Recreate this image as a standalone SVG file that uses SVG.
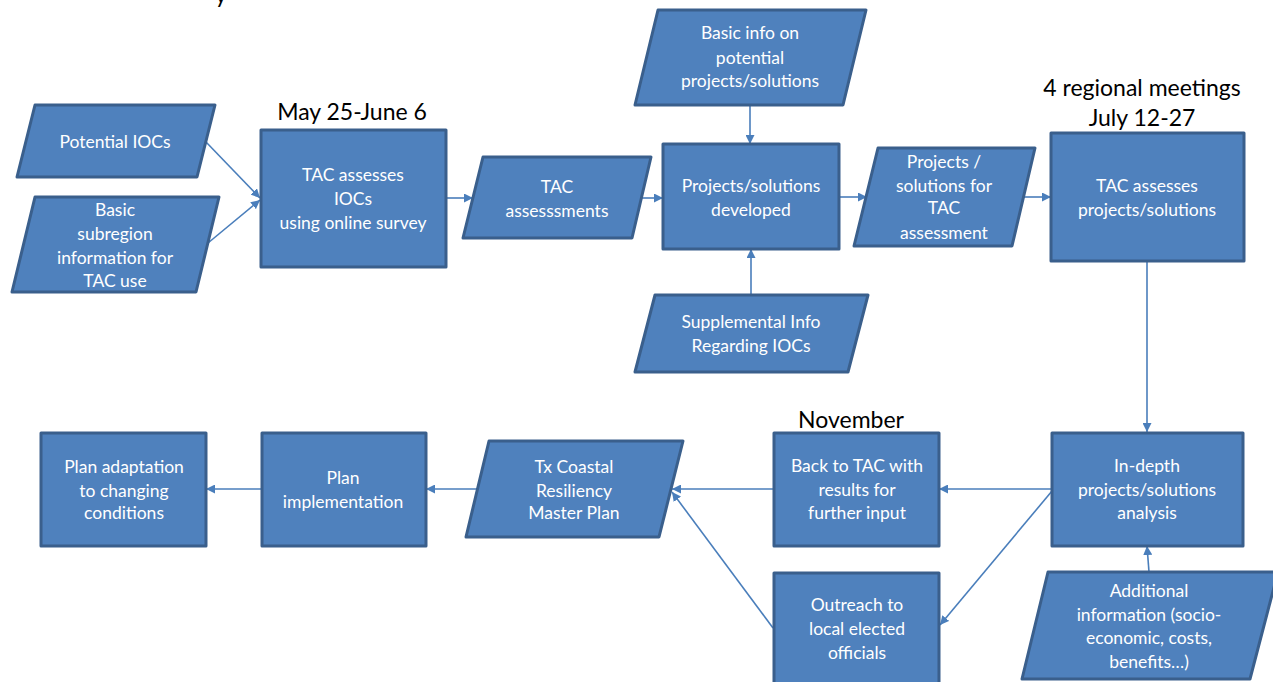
<svg xmlns="http://www.w3.org/2000/svg" width="1273" height="682" viewBox="0 0 1273 682">
<style>
.n{fill:#4F81BD;stroke:#3A5F8C;stroke-width:3;stroke-linejoin:round}
.t{fill:#FFFFFF;font-family:Lato,"Liberation Sans",sans-serif;font-size:17.5px;text-anchor:middle}
.lb{fill:#000000;font-family:Lato,"Liberation Sans",sans-serif;font-size:23px;text-anchor:middle}
.c{fill:none;stroke:#4A7EBB;stroke-width:1.6}
</style>
<defs>
<marker id="ah" viewBox="0 0 10 10" refX="10" refY="5" markerWidth="9" markerHeight="9" markerUnits="userSpaceOnUse" orient="auto">
<path d="M0,0 L10,5 L0,10 z" fill="#4A7EBB"/>
</marker>
</defs>
<rect width="1273" height="682" fill="#FFFFFF"/>
<text class="lb" x="221" y="3">y</text>
<text class="lb" x="352" y="120">May 25-June 6</text>
<text class="lb" x="1142" y="96">4 regional meetings</text>
<text class="lb" x="1142" y="126">July 12-27</text>
<text class="lb" x="851" y="428">November</text>

<g id="connectors">
<line class="c" x1="206" y1="142" x2="260" y2="198" marker-end="url(#ah)"/>
<line class="c" x1="208" y1="243" x2="260" y2="200" marker-end="url(#ah)"/>
<line class="c" x1="446" y1="198" x2="473" y2="198" marker-end="url(#ah)"/>
<line class="c" x1="642" y1="198" x2="663" y2="198" marker-end="url(#ah)"/>
<line class="c" x1="750" y1="105" x2="750" y2="144" marker-end="url(#ah)"/>
<line class="c" x1="751" y1="295" x2="751" y2="249" marker-end="url(#ah)"/>
<line class="c" x1="839" y1="197" x2="867" y2="197" marker-end="url(#ah)"/>
<line class="c" x1="1023" y1="197" x2="1051" y2="197" marker-end="url(#ah)"/>
<line class="c" x1="1147" y1="261" x2="1147" y2="432" marker-end="url(#ah)"/>
<line class="c" x1="1052" y1="489" x2="939" y2="489" marker-end="url(#ah)"/>
<line class="c" x1="1052" y1="491" x2="940" y2="625" marker-end="url(#ah)"/>
<line class="c" x1="1149" y1="572" x2="1147" y2="546" marker-end="url(#ah)"/>
<line class="c" x1="774" y1="489" x2="672" y2="489" marker-end="url(#ah)"/>
<line class="c" x1="773" y1="628" x2="672" y2="492" marker-end="url(#ah)"/>
<line class="c" x1="478" y1="489" x2="426" y2="489" marker-end="url(#ah)"/>
<line class="c" x1="262" y1="489" x2="206" y2="489" marker-end="url(#ah)"/>
</g>

<g id="potential-iocs">
<polygon class="n" points="35,105 215,105 197,177 17,177"/>
<text class="t" x="115" y="148">Potential IOCs</text>
</g>
<g id="basic-subregion">
<polygon class="n" points="35,197 219,197 196,292 12,292"/>
<text class="t" x="115" y="216">Basic</text>
<text class="t" x="115" y="240">subregion</text>
<text class="t" x="115" y="264">information for</text>
<text class="t" x="115" y="287">TAC use</text>
</g>
<g id="tac-assesses-iocs">
<rect class="n" x="261" y="130" width="185" height="137"/>
<text class="t" x="353" y="181">TAC assesses</text>
<text class="t" x="353" y="205">IOCs</text>
<text class="t" x="353" y="229">using online survey</text>
</g>
<g id="tac-assessments">
<polygon class="n" points="483,157 651,157 632,238 463,238"/>
<text class="t" x="557" y="193">TAC</text>
<text class="t" x="557" y="217">assesssments</text>
</g>
<g id="basic-info">
<polygon class="n" points="658,10 866,10 843,105 635,105"/>
<text class="t" x="750" y="39">Basic info on</text>
<text class="t" x="750" y="64">potential</text>
<text class="t" x="750" y="87">projects/solutions</text>
</g>
<g id="projects-developed">
<rect class="n" x="663" y="144" width="176" height="105"/>
<text class="t" x="751" y="192">Projects/solutions</text>
<text class="t" x="751" y="216">developed</text>
</g>
<g id="supplemental-info">
<polygon class="n" points="655,295 868,295 848,372 635,372"/>
<text class="t" x="751" y="328">Supplemental Info</text>
<text class="t" x="751" y="352">Regarding IOCs</text>
</g>
<g id="projects-for-tac">
<polygon class="n" points="878,148 1035,148 1012,246 854,246"/>
<text class="t" x="944" y="168">Projects /</text>
<text class="t" x="944" y="192">solutions for</text>
<text class="t" x="944" y="214">TAC</text>
<text class="t" x="944" y="239">assessment</text>
</g>
<g id="tac-assesses-projects">
<rect class="n" x="1051" y="133" width="193" height="128"/>
<text class="t" x="1147" y="192">TAC assesses</text>
<text class="t" x="1147" y="216">projects/solutions</text>
</g>
<g id="in-depth">
<rect class="n" x="1052" y="433" width="191" height="113"/>
<text class="t" x="1147" y="472">In-depth</text>
<text class="t" x="1147" y="496">projects/solutions</text>
<text class="t" x="1147" y="519">analysis</text>
</g>
<g id="back-to-tac">
<rect class="n" x="774" y="433" width="165" height="113"/>
<text class="t" x="857" y="472">Back to TAC with</text>
<text class="t" x="857" y="496">results for</text>
<text class="t" x="857" y="519">further input</text>
</g>
<g id="outreach">
<rect class="n" x="774" y="573" width="165" height="120"/>
<text class="t" x="857" y="611">Outreach to</text>
<text class="t" x="857" y="635">local elected</text>
<text class="t" x="857" y="659">officials</text>
</g>
<g id="additional-info">
<polygon class="n" points="1048,572 1278,572 1250,679 1022,679"/>
<text class="t" x="1149" y="597">Additional</text>
<text class="t" x="1149" y="621">information (socio-</text>
<text class="t" x="1149" y="644">economic, costs,</text>
<text class="t" x="1149" y="668">benefits…)</text>
</g>
<g id="tx-coastal">
<polygon class="n" points="489,441 683,441 659,537 466,537"/>
<text class="t" x="574" y="473">Tx Coastal</text>
<text class="t" x="574" y="497">Resiliency</text>
<text class="t" x="574" y="519">Master Plan</text>
</g>
<g id="plan-implementation">
<rect class="n" x="262" y="433" width="164" height="113"/>
<text class="t" x="343" y="484">Plan</text>
<text class="t" x="343" y="508">implementation</text>
</g>
<g id="plan-adaptation">
<rect class="n" x="41" y="433" width="165" height="113"/>
<text class="t" x="124" y="473">Plan adaptation</text>
<text class="t" x="124" y="497">to changing</text>
<text class="t" x="124" y="519">conditions</text>
</g>
</svg>
